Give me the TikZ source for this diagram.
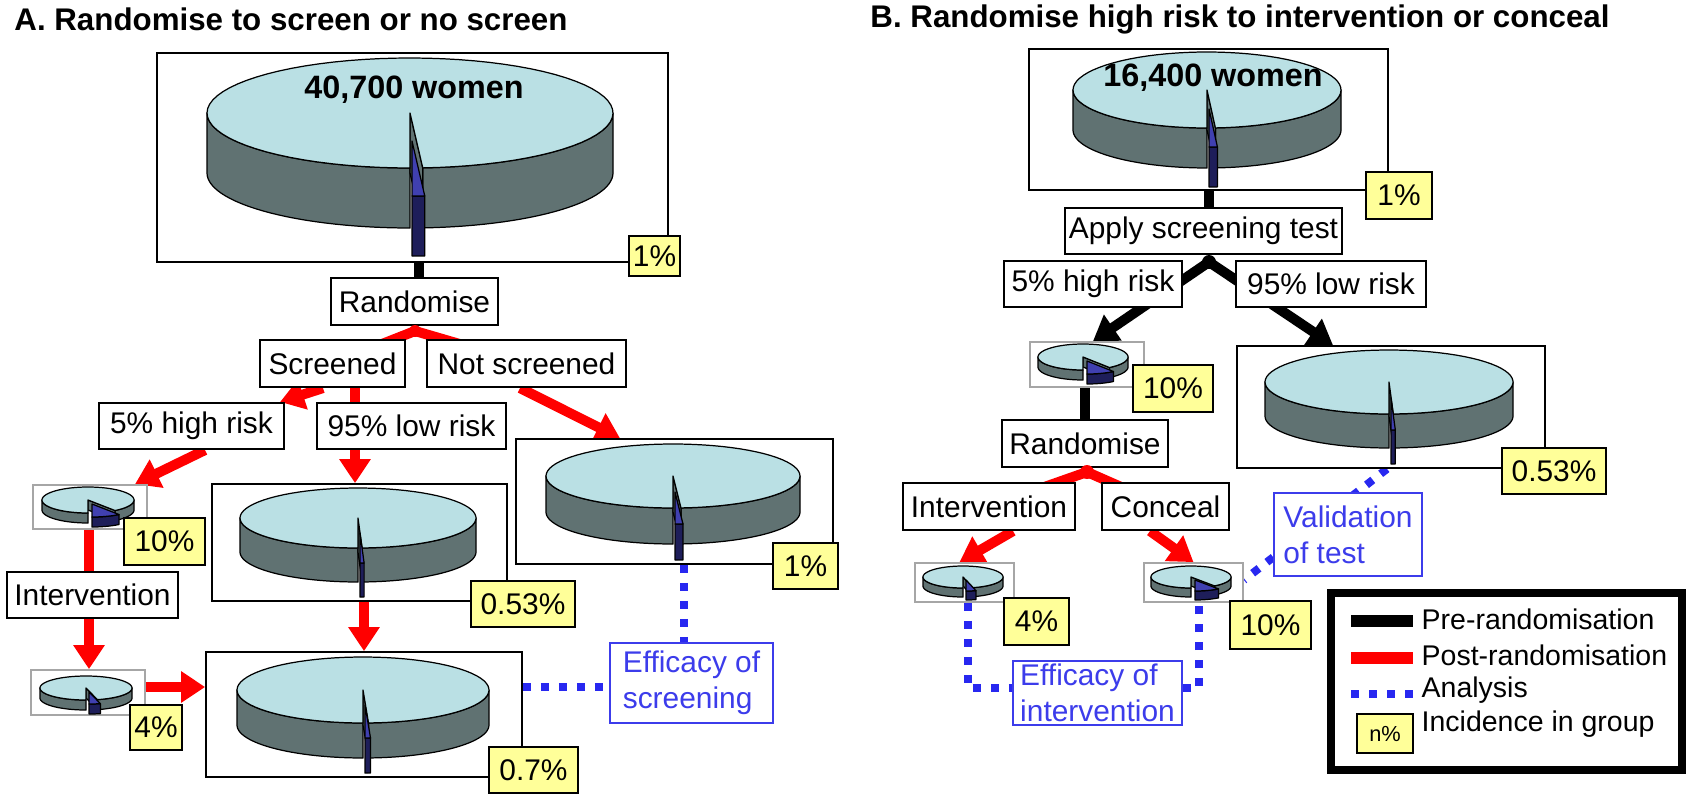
\documentclass[tikz,border=0pt]{standalone}
\usepackage{fontspec}
\setmainfont{Liberation Sans}
\usetikzlibrary{arrows.meta,calc}
\pgfdeclarelayer{bg}\pgfsetlayers{bg,main}
\definecolor{ptop}{RGB}{186,224,228}
\definecolor{pside}{RGB}{96,114,114}
\definecolor{ntop}{RGB}{64,64,176}
\definecolor{nside}{RGB}{30,30,90}
\definecolor{yel}{RGB}{255,255,153}
\definecolor{dblue}{RGB}{40,40,240}
\definecolor{tblue}{RGB}{60,60,235}
\newcommand\mybox[7]{%
 \pgfmathsetmacro\bw{(#4-#2)*0.01}\pgfmathsetmacro\bh{(#5-#3)*0.01}%
 \node[#6, minimum width=\bw cm, minimum height=\bh cm] (#1) at ({(#2+#4)/2},{(#3+#5)/2}) {#7};}
\newcommand\mypie[8]{%
 \pgfmathsetmacro\pa{90-#6}\pgfmathsetmacro\pb{450-#6}%
 \filldraw[fill=pside,pline] plot[domain=90:180,samples=30] ({#1+#3*cos(\x)},{#2+#4*sin(\x)}) -- plot[domain=180:90,samples=30] ({#1+#3*cos(\x)},{#2+#5+#4*sin(\x)}) -- cycle;
 \filldraw[fill=pside,pline] plot[domain=0:\pa,samples=30] ({#1+#3*cos(\x)},{#2+#4*sin(\x)}) -- plot[domain=\pa:0,samples=30] ({#1+#3*cos(\x)},{#2+#5+#4*sin(\x)}) -- cycle;
 \filldraw[fill=pside,pline] (#1,#2) -- ({#1+#3*cos(\pa)},{#2+#4*sin(\pa)}) -- ({#1+#3*cos(\pa)},{#2+#5+#4*sin(\pa)}) -- (#1,#2+#5) -- cycle;
 \filldraw[fill=ptop,pline] (#1,#2) -- plot[domain=90:\pb,samples=80] ({#1+#3*cos(\x)},{#2+#4*sin(\x)}) -- cycle;
 \begin{scope}[shift={(#7,#8)}]
 \filldraw[fill=nside,pline] plot[domain=\pa:90,samples=20] ({#1+#3*cos(\x)},{#2+#4*sin(\x)}) -- plot[domain=90:\pa,samples=20] ({#1+#3*cos(\x)},{#2+#5+#4*sin(\x)}) -- cycle;
 \filldraw[fill=ntop,pline] (#1,#2) -- plot[domain=\pa:90,samples=20] ({#1+#3*cos(\x)},{#2+#4*sin(\x)}) -- cycle;
 \end{scope}}
\begin{document}
\begin{tikzpicture}[x=0.01cm,y=-0.01cm,
 every node/.style={font=\fontsize{8.5}{10.2}\selectfont},
 box/.style={draw,fill=white,inner sep=0pt,line width=0.6pt},
 pbox/.style={draw,fill=white,inner sep=0pt,line width=0.5pt},
 sbox/.style={draw=black!35,fill=white,inner sep=0pt,line width=0.5pt},
 pct/.style={draw,fill=yel,inner sep=0pt,line width=0.6pt},
 bbox/.style={draw=tblue,fill=white,inner sep=0pt,line width=0.5pt,text=tblue,align=left},
 pline/.style={draw=black,line width=0.35pt,line join=round},
 pre/.style={line width=0.1cm,black},
 post/.style={line width=0.1cm,red},
 tip/.style={-{Triangle[width=0.3cm,length=0.24cm]}},
 ana/.style={line width=0.08cm,dblue,dash pattern=on 0.08cm off 0.1cm}]
\useasboundingbox (0,0) rectangle (1688,800);
% titles
\node[anchor=west,font=\fontsize{8.9}{10.5}\selectfont\bfseries] (tA) at (2,19) {A. Randomise to screen or no screen};
\node[anchor=west,font=\fontsize{8.9}{10.5}\selectfont\bfseries] (tB) at (858,19) {B. Randomise high risk to intervention or conceal};
% ---------- Panel A ----------
\mybox{bigA}{157}{53}{668}{262}{pbox}{}
\mypie{410}{113}{203}{55}{60}{3.6}{2}{28}
\node[font=\fontsize{9.2}{11}\selectfont\bfseries] (wA) at (414,90) {40,700 women};
\mybox{p1A}{629}{236}{680}{276}{pct}{1\%}
\mybox{randA}{331}{278}{498}{325}{box}{Randomise}
\mybox{scr}{260}{340}{405}{387}{box}{Screened}
\mybox{nscr}{427}{340}{626}{387}{box}{Not screened}
\mybox{hiA}{99}{403}{284}{449}{box}{5\% high risk}
\mybox{loA}{317}{403}{506}{449}{box}{95\% low risk}
\mybox{smA1}{33}{485}{147}{529}{sbox}{}
\mypie{88}{500}{46}{13}{10}{36}{4}{4}
\mybox{p10A}{124}{518}{205}{565}{pct}{10\%}
\mybox{intA}{7}{572}{178}{618}{box}{Intervention}
\mybox{smA2}{31}{670}{145}{715}{sbox}{}
\mypie{86}{688}{46}{12}{10}{14.4}{3}{4}
\mybox{p4A}{130}{705}{182}{750}{pct}{4\%}
\mybox{medA}{212}{484}{507}{601}{pbox}{}
\mypie{358}{518}{118}{30}{34}{2}{2}{15}
\mybox{p053A}{471}{581}{575}{627}{pct}{0.53\%}
\mybox{botA}{206}{652}{522}{777}{pbox}{}
\mypie{363}{690}{126}{33}{35}{2.5}{2}{15}
\mybox{p07A}{489}{747}{578}{793}{pct}{0.7\%}
\mybox{rightA}{516}{439}{833}{564}{pbox}{}
\mypie{673}{476}{127}{32}{36}{3.6}{2}{16}
\mybox{p1A2}{773}{543}{838}{589}{pct}{1\%}
\mybox{effA}{610}{643}{773}{723}{bbox}{Efficacy of\\screening}
\coordinate (dA) at (415,331);
\fill[red] (dA) circle (6);
\begin{pgfonlayer}{bg}
\draw[pre] (419,262) -- (randA.north -| 419,0);
\draw[post] (dA) -- (scr.center);
\draw[post] (dA) -- (nscr.center);
\draw[post,tip] ([xshift=-0.095cm]scr.south) -- ([xshift=0.885cm]hiA.north);
\draw[post] ([xshift=0.225cm]scr.south) -- ([xshift=0.225cm]scr.south |- loA.north);
\draw[post,tip] ([xshift=-0.065cm]nscr.south) -- ([xshift=-0.545cm]rightA.north);
\draw[post,tip] ([xshift=0.135cm]hiA.south) -- ([xshift=0.45cm]smA1.north);
\draw[post,tip] (loA.south -| 355,0) -- (medA.north -| 355,0);
\draw[post] (smA1.south -| 89,0) -- (intA.north -| 89,0);
\draw[post,tip] (intA.south -| 89,0) -- (smA2.north -| 89,0);
\draw[post,tip] (smA2.east |- 0,687) -- (botA.west |- 0,687);
\draw[post,tip] (medA.south -| 364,0) -- (botA.north -| 364,0);
\draw[ana] (rightA.south -| 684,0) -- (effA.north -| 684,0);
\draw[ana] (botA.east |- 0,687) -- (effA.west |- 0,687);
\end{pgfonlayer}
% ---------- Panel B ----------
\mybox{topB}{1029}{49}{1388}{190}{pbox}{}
\mypie{1207}{90}{134}{38}{40}{3.6}{2}{19}
\node[font=\fontsize{9.2}{11}\selectfont\bfseries] (wB) at (1213,78) {16,400 women};
\mybox{p1B}{1366}{172}{1432}{219}{pct}{1\%}
\mybox{apply}{1065}{208}{1342}{254}{box}{Apply screening test}
\mybox{hiB}{1004}{261}{1182}{307}{box}{5\% high risk}
\mybox{loB}{1236}{261}{1426}{307}{box}{95\% low risk}
\mybox{smB1}{1030}{342}{1144}{387}{sbox}{}
\mypie{1083}{357}{45}{13}{10}{36}{4}{4}
\mybox{p10B}{1133}{365}{1213}{412}{pct}{10\%}
\mybox{randB}{1002}{420}{1168}{467}{box}{Randomise}
\mybox{intB}{903}{483}{1075}{530}{box}{Intervention}
\mybox{conB}{1102}{483}{1229}{530}{box}{Conceal}
\mybox{smB2}{915}{563}{1014}{602}{sbox}{}
\mypie{963}{577}{40}{11}{9}{14.4}{3}{3}
\mybox{smB3}{1144}{563}{1243}{602}{sbox}{}
\mypie{1191}{577}{40}{11}{9}{36}{4}{3}
\mybox{p4B}{1004}{598}{1069}{645}{pct}{4\%}
\mybox{p10B2}{1230}{601}{1311}{649}{pct}{10\%}
\mybox{effB}{1013}{661}{1182}{725}{bbox}{Efficacy of\\intervention}
\mybox{rightB}{1237}{346}{1545}{468}{pbox}{}
\mypie{1389}{382}{124}{32}{34}{2}{2}{16}
\mybox{p053B}{1502}{448}{1606}{494}{pct}{0.53\%}
\mybox{valB}{1274}{493}{1422}{576}{bbox}{Validation\\of test}
\coordinate (dB) at (1209,262);
\coordinate (dR) at (1087,472);
\fill[black] (dB) circle (7);
\fill[red] (dR) circle (7);
\begin{pgfonlayer}{bg}
\draw[pre] (topB.south -| 1209,0) -- (apply.north -| 1209,0);
\draw[pre,tip] (dB) -- ([xshift=0.06cm]smB1.north);
\draw[pre,tip] (dB) -- ([xshift=-0.58cm]rightB.north);
\draw[pre] (smB1.south -| 1085,0) -- (randB.north -| 1085,0);
\draw[post] (dR) -- (intB.center);
\draw[post] (dR) -- (conB.center);
\draw[post,tip] ([xshift=0.24cm]intB.south) -- ([xshift=-0.05cm]smB2.north);
\draw[post,tip] ([xshift=-0.155cm]conB.south) -- (smB3.north);
\draw[ana] (smB2.south -| 968,0) -- (968,688) -- (effB.west |- 0,688);
\draw[ana] (effB.east |- 0,688) -- (1199,688) -- (smB3.south -| 1199,0);
\draw[ana] (rightB.south -| 1387,0) -- (smB3.east |- 0,580);
\end{pgfonlayer}
% legend
\mybox{leg}{1331}{593}{1682}{770}{draw,line width=0.08cm,inner sep=0pt}{}
\coordinate (l1a) at (1351,621); \coordinate (l1b) at (1413,621);
\coordinate (l2a) at (1351,658); \coordinate (l2b) at (1413,658);
\coordinate (l3a) at (1351,694); \coordinate (l3b) at (1413,694);
\draw[pre,line width=0.12cm] (l1a) -- (l1b);
\draw[post,line width=0.12cm] (l2a) -- (l2b);
\draw[ana] (l3a) -- (l3b);
\mybox{lyel}{1357}{714}{1413}{753}{pct,font=\fontsize{6.2}{8}\selectfont}{n\%}
\node[anchor=west,inner sep=0pt,font=\fontsize{8.1}{9.7}\selectfont] (t1) at (1421,619) {Pre-randomisation};
\node[anchor=west,inner sep=0pt,font=\fontsize{8.1}{9.7}\selectfont] (t2) at (1421,655) {Post-randomisation};
\node[anchor=west,inner sep=0pt,font=\fontsize{8.1}{9.7}\selectfont] (t3) at (1421,690) {Analysis};
\node[anchor=west,inner sep=0pt,font=\fontsize{8.1}{9.7}\selectfont] (t4) at (1421,724) {Incidence in group};
\end{tikzpicture}
\end{document}
